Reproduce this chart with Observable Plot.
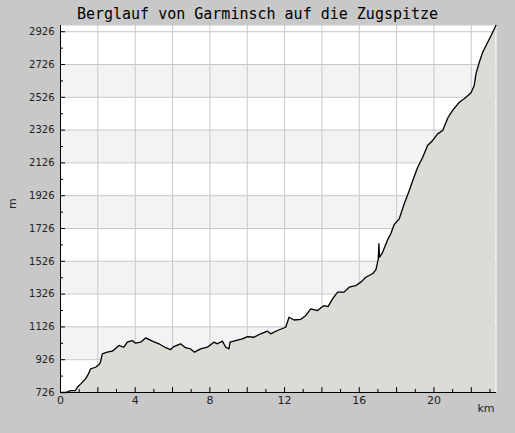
<!DOCTYPE html>
<html>
<head>
<meta charset="utf-8">
<script src="https://cdn.jsdelivr.net/npm/d3@7"></script>
<script src="https://cdn.jsdelivr.net/npm/@observablehq/plot@0.6"></script>
<style>
  html, body { margin: 0; padding: 0; background: #c8c8c8; width: 515px; height: 433px; overflow: hidden; }
  #title { width: 515px; height: 22px; text-align: center; font-family: "DejaVu Sans Mono", monospace; font-size: 15px; line-height: 28px; color: #000; white-space: nowrap; }
  #chart svg { display: block; }
</style>
</head>
<body>
<div id="title">Berglauf von Garminsch auf die Zugspitze</div>
<div id="chart"></div>
<script>
const km = [0, 0.3, 0.4, 0.54, 0.8, 0.9, 1.1, 1.34, 1.5, 1.61, 1.88, 2.05, 2.14, 2.24, 2.5, 2.77, 2.95, 3.13, 3.39, 3.58, 3.84, 4.02, 4.29, 4.56, 4.92, 5.27, 5.63, 5.9, 6.07, 6.43, 6.7, 6.97, 7.18, 7.5, 7.87, 8.22, 8.4, 8.67, 8.85, 9.02, 9.08, 9.38, 9.74, 10.01, 10.37, 10.72, 11.08, 11.26, 11.62, 12.06, 12.24, 12.51, 12.87, 13.14, 13.4, 13.76, 14.12, 14.33, 14.57, 14.84, 15.19, 15.46, 15.82, 16.09, 16.35, 16.71, 16.89, 17.02, 17.05, 17.09, 17.25, 17.52, 17.69, 17.87, 18.14, 18.41, 18.68, 18.9, 19.13, 19.4, 19.66, 19.93, 20.2, 20.47, 20.74, 21.0, 21.36, 21.62, 21.98, 22.16, 22.25, 22.43, 22.61, 22.88, 23.06, 23.24, 23.32];
const elev = [726, 726, 732, 738, 738, 758, 780, 809, 840, 870, 880, 895, 911, 962, 972, 978, 995, 1013, 1002, 1033, 1043, 1027, 1033, 1059, 1039, 1023, 999, 988, 1006, 1023, 999, 992, 972, 992, 1002, 1033, 1023, 1039, 1002, 992, 1033, 1043, 1053, 1067, 1063, 1084, 1100, 1084, 1104, 1124, 1185, 1168, 1172, 1196, 1236, 1226, 1256, 1250, 1297, 1338, 1338, 1368, 1378, 1399, 1429, 1450, 1474, 1541, 1633, 1551, 1581, 1658, 1694, 1750, 1785, 1877, 1958, 2030, 2100, 2161, 2232, 2263, 2303, 2324, 2400, 2446, 2496, 2517, 2552, 2598, 2669, 2740, 2801, 2862, 2903, 2944, 2964];

const yMajor = [726, 926, 1126, 1326, 1526, 1726, 1926, 2126, 2326, 2526, 2726, 2926];
const yMinor = [826, 1026, 1226, 1426, 1626, 1826, 2026, 2226, 2426, 2626, 2826];
const xLabels = [0, 4, 8, 12, 16, 20];
const xMajor = [0, 2, 4, 6, 8, 10, 12, 14, 16, 18, 20, 22];
const xMinor = [1, 3, 5, 7, 9, 11, 13, 15, 17, 19, 21, 23];
const bandLo = [926, 1326, 1726, 2126, 2526];
const bandHi = [1126, 1526, 1926, 2326, 2726];

const profile = km.map((d, i) => ({km: d, elev: elev[i]}));
const bands = bandLo.map((d, i) => ({lo: d, hi: bandHi[i]}));

const W = 515, H = 411, MT = 3, MB = 41, ML = 60, MR = 19;
const PW = W - ML - MR, PH = H - MT - MB;

const chart = Plot.plot({
  width: W,
  height: H,
  marginTop: MT,
  marginBottom: MB,
  marginLeft: ML,
  marginRight: MR,
  style: {fontFamily: "DejaVu Sans", fontSize: "10px", color: "#222", background: "transparent"},
  x: {domain: [0, 23.35], label: null},
  y: {domain: [726, 2964], label: null},
  marks: [
    Plot.frame({fill: "#ffffff", stroke: null}),
    Plot.rect(bands, {y1: "lo", y2: "hi", fill: "#f3f2f5"}),
    Plot.gridY(yMajor, {stroke: "#c8c8c8", strokeOpacity: 1}),
    Plot.gridX(xMajor.filter(d => d > 0), {stroke: "#c8c8c8", strokeOpacity: 1}),
    Plot.areaY(profile, {x: "km", y1: 726, y2: "elev", fill: "#dcdbd6"}),
    Plot.line(profile, {x: "km", y: "elev", stroke: "#000", strokeWidth: 1.3}),
    Plot.ruleX([0], {stroke: "#000"}),
    Plot.ruleY([726], {stroke: "#000"}),
    Plot.tickY(yMajor, {y: d => d, stroke: "#000", insetRight: PW - 5}),
    Plot.tickY(yMinor, {y: d => d, stroke: "#000", insetRight: PW - 3}),
    Plot.tickX(xMajor, {x: d => d, stroke: "#000", insetTop: PH - 5}),
    Plot.tickX(xMinor, {x: d => d, stroke: "#000", insetTop: PH - 3}),
    Plot.axisY(yMajor, {tickSize: 0, tickPadding: 6, tickFormat: d => String(d), fill: "#222", label: null}),
    Plot.axisX(xLabels, {tickSize: 0, tickPadding: 4, tickFormat: d => String(d), fill: "#222", fontSize: 11, label: null}),
    Plot.text(["km"], {frameAnchor: "bottom-right", dy: 19, dx: -2, textAnchor: "end", fill: "#222", fontSize: 11}),
    Plot.text(["m"], {frameAnchor: "left", dx: -48, rotate: -90, fill: "#222", fontSize: 11})
  ]
});
document.getElementById("chart").appendChild(chart);
</script>
</body>
</html>
